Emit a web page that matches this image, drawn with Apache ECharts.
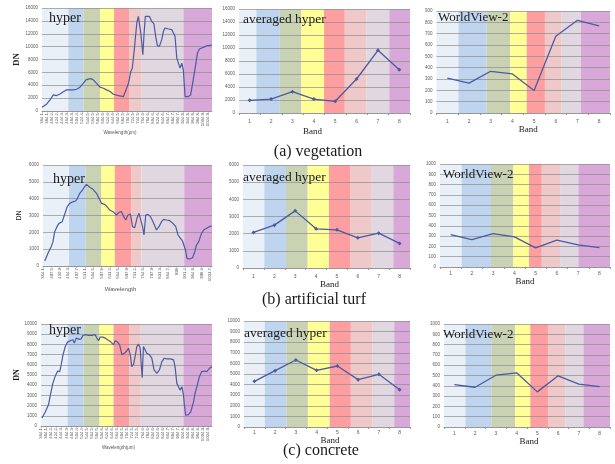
<!DOCTYPE html>
<html><head><meta charset="utf-8">
<script src="https://cdn.jsdelivr.net/npm/echarts@6/dist/echarts.min.js"></script>
<style>html,body{margin:0;padding:0;background:#fff}#c{width:615px;height:464px}</style>
</head><body><div id="c"></div>
<script>
// ---------- DATA ----------
const bandNums = [1, 2, 3, 4, 5, 6, 7, 8];
const wlTicksDense = [364.1, 384.1, 404.2, 424.2, 444.3, 464.3, 484.3, 504.4, 524.4, 544.5, 564.5, 584.5, 604.6, 624.6, 644.6, 664.5, 684.5, 704.5, 724.5, 744.5, 764.6, 784.6, 804.6, 824.6, 844.6, 864.7, 884.7, 904.7, 924.8, 944.8, 964.8, 984.8, 1004.9, 1024.9];
const wlTicksSparse = [364.1, 397.5, 430.9, 464.3, 497.7, 531.1, 564.5, 597.8, 631.2, 664.5, 697.9, 731.2, 764.6, 797.9, 831.3, 864.7, 898, 931.4, 964.8, 998.3, 1031.7];

// (a) vegetation
const vegHyperWl = [365, 383, 396, 409, 422, 436, 449, 462, 475, 489, 502, 515, 528, 539, 548, 558, 568, 581, 595, 608, 621, 635, 648, 668, 688, 694, 708, 717, 723, 731, 741, 747, 751, 757, 765, 770, 775, 780, 791, 800, 809, 816, 823, 831, 840, 847, 853, 867, 880, 886, 893, 900, 906, 913, 920, 926, 933, 940, 946, 955, 963, 973, 982, 990, 999, 1009, 1019, 1032, 1039];
const vegHyperDN = [570, 1090, 1716, 2500, 2400, 2650, 3000, 3280, 3280, 3280, 3380, 3700, 4300, 4840, 4940, 5040, 4840, 4300, 3700, 3540, 3280, 3020, 2600, 2400, 2240, 2500, 4300, 6140, 6650, 9500, 13680, 14700, 14450, 12100, 8740, 12100, 14700, 14980, 14700, 13940, 13570, 11600, 10140, 10040, 11080, 12380, 12900, 12740, 12640, 12380, 11600, 8220, 7960, 6660, 7440, 6400, 2240, 1980, 2240, 2500, 4300, 6660, 9000, 9620, 9780, 9930, 10140, 10190, 10300];
const vegAvg = [1950, 2150, 3280, 2150, 1800, 5230, 9640, 6670];
const vegWV2 = [307, 263, 368, 345, 199, 678, 818, 768];

// (b) artificial turf
const turfHyperWl = [371, 384, 397, 404, 411, 420, 428, 435, 441, 450, 461, 471, 484, 495, 502, 511, 522, 531, 538, 544, 554, 564, 578, 588, 598, 611, 620, 631, 644, 658, 668, 678, 687, 695, 704, 714, 722, 731, 740, 748, 755, 762, 768, 775, 784, 794, 804, 818, 828, 838, 847, 858, 871, 884, 895, 904, 914, 922, 928, 934, 940, 951, 962, 971, 978, 987, 998, 1007, 1018, 1029, 1040];
const turfHyperDN = [297, 752, 1148, 1445, 2040, 2336, 2534, 2633, 2633, 3030, 3524, 3722, 3821, 3860, 4020, 4316, 4514, 4712, 4851, 4772, 4653, 4554, 4316, 4020, 3722, 3663, 3524, 3326, 3227, 3030, 3188, 3227, 2930, 2732, 3030, 3089, 2336, 2277, 2831, 3128, 3128, 2336, 1841, 3030, 3069, 2930, 2633, 2138, 2336, 2633, 2772, 2732, 2693, 2534, 2336, 1841, 1643, 1485, 1406, 950, 455, 416, 495, 851, 1247, 1445, 1940, 2138, 2237, 2336, 2376];
const turfAvg = [2070, 2496, 3328, 2283, 2225, 1760, 2030, 1432];
const turfWV2 = [315, 266, 325, 292, 185, 260, 214, 188];

// (c) concrete
const concHyperWl = [368, 381, 394, 401, 411, 421, 430, 438, 444, 451, 460, 469, 480, 490, 496, 503, 513, 522, 530, 539, 552, 565, 578, 585, 592, 598, 609, 618, 627, 638, 651, 657, 667, 675, 684, 693, 701, 710, 717, 723, 730, 736, 743, 750, 756, 764, 769, 776, 782, 793, 802, 811, 822, 832, 842, 851, 861, 875, 888, 894, 901, 907, 914, 921, 927, 931, 936, 947, 956, 967, 973, 982, 990, 999, 1009, 1019, 1030, 1040];
const concHyperDN = [790, 1380, 2105, 3027, 4178, 4935, 5396, 5330, 5990, 6975, 7797, 8225, 8357, 8455, 8126, 8620, 8520, 8520, 8883, 8950, 8883, 8883, 8950, 8620, 8357, 8718, 8718, 8620, 8455, 8290, 7960, 8357, 8225, 7960, 6975, 7140, 7300, 7630, 6975, 5823, 6053, 6810, 7797, 8027, 7630, 4738, 7797, 7700, 7140, 6975, 6646, 5494, 5165, 5494, 6317, 6646, 6580, 6580, 6481, 5823, 4178, 4080, 3520, 3850, 3090, 2040, 1053, 1119, 1380, 2370, 3190, 4014, 4836, 5330, 5396, 5330, 5660, 5823];
const concAvg = [4308, 5315, 6320, 5346, 5755, 4466, 4969, 3522];
const concWV2 = [412, 386, 503, 526, 341, 497, 416, 393];

// spectral band background edges (in each panel's x-axis units)
const vegHyperEdges  = [364.1, 468.8, 528.5, 594.8, 650.5, 710.2, 760.6, 926.3, 1040];
const vegAvgEdges    = [0.5, 1.31, 2.41, 3.42, 4.48, 5.45, 6.47, 7.53, 8.5];
const vegWV2Edges    = [0.5, 1.51, 2.81, 3.89, 4.66, 5.50, 6.27, 7.16, 8.5];
const turfHyperEdges = [364.1, 468.2, 535, 597.8, 651.2, 718, 758, 929, 1040];
const turfAvgEdges   = [0.5, 1.52, 2.56, 3.60, 4.62, 5.63, 6.67, 7.70, 8.5];
const turfWV2Edges   = [0.5, 1.52, 2.90, 3.95, 4.69, 5.29, 6.15, 7.01, 8.5];
const concHyperEdges = [364.1, 469.2, 532.3, 595.5, 650.7, 712.5, 758.5, 926.9, 1040];
const concAvgEdges   = [0.5, 1.50, 2.54, 3.58, 4.63, 5.65, 6.70, 7.74, 8.5];
const concWV2Edges   = [0.5, 1.53, 2.78, 3.93, 4.66, 5.51, 6.34, 7.22, 8.5];

const panelTitles = ['hyper', 'averaged hyper', 'WorldView-2'];
const captions = ['(a) vegetation', '(b) artificial turf', '(c) concrete'];

// ---------- STYLE ----------
const bandColors = ['#EAF0F8', '#BFD4EE', '#C9D3B3', '#FFFF96', '#FF9EA0', '#EFC9C9', '#E1D7E1', '#D8A8D8'];
const lineColor = '#4B5AA2';
const serif = 'Liberation Serif, DejaVu Serif, serif';
const sans = 'Liberation Sans, Arial, sans-serif';

function areas(edges) {
  const out = [];
  for (let i = 0; i < edges.length - 1; i++) {
    out.push([{ xAxis: edges[i], itemStyle: { color: bandColors[i] } }, { xAxis: edges[i + 1] }]);
  }
  return out;
}

const panels = [
  // row 1
  { kind: 'h', grid: { left: 42, top: 8, width: 170, height: 103 }, wl: vegHyperWl, dn: vegHyperDN, edges: vegHyperEdges, ticks: wlTicksDense, max: 16000, int: 2000, wlName: 'Wavelength(μm)', wlFont: 4.5, wlGap: 19, wlPad: 14, dnGap: 18, dnFont: serif, dnSize: 9, dnWeight: 'bold' },
  { kind: 'b', grid: { left: 239, top: 9, width: 171, height: 104 }, vals: vegAvg, sym: true, edges: vegAvgEdges, max: 16000, int: 2000, bandGap: 14.5, bandPad: 24, lblMargin: 6 },
  { kind: 'b', grid: { left: 436.5, top: 11, width: 173.5, height: 102 }, vals: vegWV2, sym: false, edges: vegWV2Edges, max: 900, int: 100, bandGap: 11.5, bandPad: 0, lblMargin: 6, bandShift: 10 },
  // row 2
  { kind: 'h', grid: { left: 43, top: 165, width: 169, height: 101 }, wl: turfHyperWl, dn: turfHyperDN, edges: turfHyperEdges, ticks: wlTicksSparse, max: 6000, int: 1000, wlName: 'Wavelength', wlFont: 6, wlGap: 20, wlPad: 14, dnGap: 20, dnFont: sans, dnSize: 7, dnWeight: 'normal' },
  { kind: 'b', grid: { left: 243, top: 165, width: 167, height: 103 }, vals: turfAvg, sym: true, edges: turfAvgEdges, max: 6000, int: 1000, bandGap: 12.5, bandPad: 0, lblMargin: 6, bandShift: 6 },
  { kind: 'b', grid: { left: 440, top: 164, width: 170, height: 103 }, vals: turfWV2, sym: false, edges: turfWV2Edges, max: 1000, int: 100, bandGap: 9.5, bandPad: 0, lblMargin: 4 },
  // row 3
  { kind: 'h', grid: { left: 41, top: 324, width: 171, height: 102 }, wl: concHyperWl, dn: concHyperDN, edges: concHyperEdges, ticks: wlTicksDense, max: 10000, int: 1000, wlName: 'Wavelength(μm)', wlFont: 4.5, wlGap: 18.5, wlPad: 16, dnGap: 13, dnFont: serif, dnSize: 8, dnWeight: 'bold' },
  { kind: 'b', grid: { left: 244, top: 321, width: 166, height: 106 }, vals: concAvg, sym: true, edges: concAvgEdges, max: 10000, int: 1000, bandGap: 8.5, bandPad: 0, lblMargin: 3, bandShift: 6 },
  { kind: 'b', grid: { left: 444, top: 324, width: 166, height: 103 }, vals: concWV2, sym: false, edges: concWV2Edges, max: 1000, int: 100, bandGap: 8.5, bandPad: 0, lblMargin: 4, bandShift: 4 }
];

const grid = [], xAxis = [], yAxis = [], series = [];
panels.forEach((p, i) => {
  grid.push(Object.assign({ containLabel: false }, p.grid));
  const yA = {
    gridIndex: i, type: 'value', min: 0, max: p.max, interval: p.int, z: 1.5,
    axisLabel: { fontSize: 4.5, color: '#595959', margin: 4, fontFamily: sans, formatter: v => String(v) },
    axisLine: { show: false }, axisTick: { show: false },
    splitLine: { lineStyle: { color: '#8c8c8c', width: 0.7 } }
  };
  if (p.kind === 'h') {
    yA.name = 'DN'; yA.nameLocation = 'middle'; yA.nameGap = p.dnGap;
    yA.nameTextStyle = { fontFamily: p.dnFont, fontSize: p.dnSize, fontWeight: p.dnWeight, color: '#222' };
    xAxis.push({
      gridIndex: i, type: 'value', min: p.edges[0], max: p.edges[p.edges.length - 1],
      axisLabel: { customValues: p.ticks, rotate: 90, fontSize: 4.3, color: '#595959', margin: 2, fontFamily: sans, formatter: v => String(v) },
      axisTick: { customValues: p.ticks, length: 1.5, lineStyle: { color: '#999' } },
      axisLine: { lineStyle: { color: '#9a9a9a', width: 0.8 } },
      splitLine: { show: false },
      name: p.wlName, nameLocation: 'middle', nameGap: p.wlGap,
      nameTextStyle: { fontSize: p.wlFont, color: '#555', fontFamily: sans, padding: [0, p.wlPad, 0, 0] }
    });
    series.push({
      type: 'line', xAxisIndex: i, yAxisIndex: i, z: 3, showSymbol: false, symbol: 'none',
      data: p.wl.map((w, k) => [w, p.dn[k]]),
      lineStyle: { color: lineColor, width: 1.2 }, itemStyle: { color: lineColor },
      markArea: { silent: true, z: 1, data: areas(p.edges) }, animation: false
    });
  } else {
    const ticks = bandNums.map(b => b - 0.5).concat([bandNums[bandNums.length - 1] + 0.5]);
    xAxis.push({
      gridIndex: i, type: 'value', min: p.edges[0], max: p.edges[p.edges.length - 1],
      axisLabel: { customValues: bandNums, fontSize: 5, color: '#595959', margin: p.lblMargin, fontFamily: sans },
      axisTick: { customValues: ticks, length: 2, lineStyle: { color: '#999' } },
      axisLine: { lineStyle: { color: '#9a9a9a', width: 0.8 } },
      splitLine: { show: false },
      name: 'Band', nameLocation: 'middle', nameGap: p.bandGap,
      nameTextStyle: { fontSize: 9, color: '#222', fontFamily: serif, padding: [0, p.bandPad, 0, p.bandShift || 0] }
    });
    series.push({
      type: 'line', xAxisIndex: i, yAxisIndex: i, z: 3,
      data: bandNums.map((b, k) => [b, p.vals[k]]),
      showSymbol: p.sym, symbol: 'diamond', symbolSize: 4,
      lineStyle: { color: lineColor, width: 1.3 }, itemStyle: { color: lineColor },
      markArea: { silent: true, z: 1, data: areas(p.edges) }, animation: false
    });
  }
  yAxis.push(yA);
});

const titlePos = [
  [49, 11, 14], [243, 12, 13.5], [438, 11, 13],
  [53, 172, 14], [243, 170, 13.5], [443, 168, 13],
  [49, 323, 14], [244, 326, 13.5], [443, 328, 13]
];
const title = titlePos.map((t, i) => ({
  text: panelTitles[i % 3], left: t[0], top: t[1], padding: 0,
  textStyle: { fontFamily: serif, fontSize: t[2], fontWeight: 'normal', color: '#1a1a1a' }
}));
const capPos = [[318, 144], [314, 292], [321, 443]];
capPos.forEach((c, i) => {
  title.push({ text: captions[i], left: c[0], top: c[1], textAlign: 'center', padding: 0,
    textStyle: { fontFamily: serif, fontSize: 16, fontWeight: 'normal', color: '#1a1a1a' } });
});

const chart = echarts.init(document.getElementById('c'), null, { renderer: 'canvas' });
chart.setOption({ backgroundColor: '#fff', animation: false, title, grid, xAxis, yAxis, series });
</script></body></html>
